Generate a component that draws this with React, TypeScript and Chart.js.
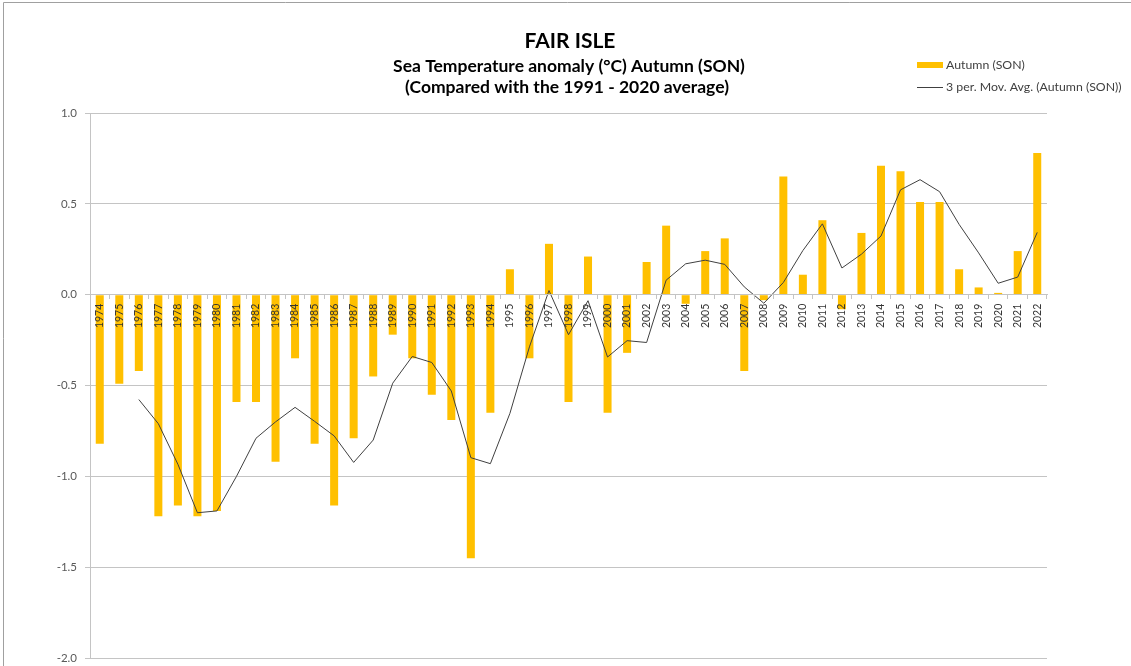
import React, { useEffect, useRef } from "react";
import { Chart, registerables } from "chart.js";

Chart.register(...registerables);

const years: string[] = [
  "1974", "1975", "1976", "1977", "1978", "1979", "1980", "1981", "1982", "1983",
  "1984", "1985", "1986", "1987", "1988", "1989", "1990", "1991", "1992", "1993",
  "1994", "1995", "1996", "1997", "1998", "1999", "2000", "2001", "2002", "2003",
  "2004", "2005", "2006", "2007", "2008", "2009", "2010", "2011", "2012", "2013",
  "2014", "2015", "2016", "2017", "2018", "2019", "2020", "2021", "2022",
];

const autumnAnomaly: number[] = [
  -0.82, -0.49, -0.42, -1.22, -1.16, -1.22, -1.19, -0.59, -0.59, -0.92,
  -0.35, -0.82, -1.16, -0.79, -0.45, -0.22, -0.35, -0.55, -0.69, -1.45,
  -0.65, 0.14, -0.35, 0.28, -0.59, 0.21, -0.65, -0.32, 0.18, 0.38,
  -0.05, 0.24, 0.31, -0.42, -0.03, 0.65, 0.11, 0.41, -0.08, 0.34,
  0.71, 0.68, 0.51, 0.51, 0.14, 0.04, 0.01, 0.24, 0.78,
];

const movingAvg3: (number | null)[] = [
  null, null, -0.577, -0.71, -0.933, -1.2, -1.19, -1.0, -0.79, -0.7,
  -0.62, -0.697, -0.777, -0.923, -0.8, -0.487, -0.34, -0.373, -0.53, -0.897,
  -0.93, -0.653, -0.287, 0.023, -0.22, -0.033, -0.343, -0.253, -0.263, 0.08,
  0.17, 0.19, 0.167, 0.043, -0.047, 0.067, 0.243, 0.39, 0.147, 0.223,
  0.323, 0.577, 0.633, 0.567, 0.387, 0.23, 0.063, 0.097, 0.343,
];

const titleText = "FAIR ISLE";
const subtitleLines: string[] = [
  "Sea Temperature anomaly (°C) Autumn (SON)",
  "(Compared with the 1991 - 2020 average)",
];
const legendLabels: string[] = ["Autumn (SON)", "3 per. Mov. Avg. (Autumn (SON))"];

const FONT = "Lato, 'Open Sans', 'DejaVu Sans', sans-serif";
const BAR_COLOR = "#FFC000";
const LINE_COLOR = "#404040";
const GRID_COLOR = "#c4c4c4";

const decorPlugin = {
  id: "decor",
  afterDraw(chart: any) {
    const ctx = chart.ctx as CanvasRenderingContext2D;
    ctx.save();
    // outer frame
    ctx.strokeStyle = "#a0a0a0";
    ctx.lineWidth = 1;
    ctx.beginPath();
    ctx.moveTo(3.5, 680);
    ctx.lineTo(3.5, 2.5);
    ctx.lineTo(1131, 2.5);
    ctx.stroke();

    // titles
    ctx.fillStyle = "#000000";
    ctx.textAlign = "center";
    ctx.textBaseline = "middle";
    ctx.font = `bold 21px ${FONT}`;
    ctx.fillText(titleText, 570, 41);
    ctx.font = `bold 17.5px ${FONT}`;
    ctx.fillText(subtitleLines[0], 569, 66);
    ctx.fillText(subtitleLines[1], 567, 87);

    // legend
    ctx.textAlign = "left";
    ctx.font = `12.3px ${FONT}`;
    ctx.fillStyle = BAR_COLOR;
    ctx.fillRect(917, 62, 26, 6);
    ctx.fillStyle = "#404040";
    ctx.fillText(legendLabels[0], 946, 65.5);
    ctx.strokeStyle = LINE_COLOR;
    ctx.lineWidth = 1;
    ctx.beginPath();
    ctx.moveTo(917, 87.5);
    ctx.lineTo(943, 87.5);
    ctx.stroke();
    ctx.fillText(legendLabels[1], 946, 87.5);
    ctx.restore();
  },
};

export default function App() {
  const canvasRef = useRef<HTMLCanvasElement | null>(null);

  useEffect(() => {
    const canvas = canvasRef.current;
    if (!canvas) return;
    const chart = new Chart(canvas, {
      type: "bar",
      data: {
        labels: years,
        datasets: [
          {
            type: "line",
            label: legendLabels[1],
            data: movingAvg3,
            borderColor: LINE_COLOR,
            borderWidth: 1,
            pointRadius: 0,
            tension: 0,
            fill: false,
            spanGaps: false,
            order: 0,
          } as any,
          {
            type: "bar",
            label: legendLabels[0],
            data: autumnAnomaly,
            backgroundColor: BAR_COLOR,
            borderWidth: 0,
            categoryPercentage: 1,
            barPercentage: 0.41,
            order: 1,
          } as any,
        ],
      },
      options: {
        responsive: false,
        devicePixelRatio: 1,
        animation: false,
        layout: { padding: { left: 10, right: 84, top: 113, bottom: 1 } },
        plugins: {
          legend: { display: false },
          title: { display: false },
          tooltip: { enabled: false },
        },
        scales: {
          x: {
            type: "category",
            position: { y: 0 } as any,
            afterFit: (s: any) => {
              s.height = 0;
            },
            grid: {
              display: true,
              offset: true,
              drawOnChartArea: false,
              drawTicks: true,
              tickLength: 4,
              color: GRID_COLOR,
              z: 1,
            },
            border: { display: true, color: GRID_COLOR, width: 1, z: 1 },
            ticks: {
              z: 1,
              autoSkip: false,
              minRotation: 90,
              maxRotation: 90,
              padding: 5,
              color: "#333333",
              font: { family: FONT, size: 10.5 },
            },
          },
          y: {
            type: "linear",
            min: -2,
            max: 1,
            afterFit: (s: any) => {
              s.width = 80;
            },
            grid: {
              color: GRID_COLOR,
              drawTicks: true,
              tickLength: 5,
            },
            border: { display: true, color: GRID_COLOR, width: 1 },
            ticks: {
              stepSize: 0.5,
              padding: 8,
              color: "#595959",
              font: { family: FONT, size: 11.5 },
              callback: (v: any) => {
                const n = Number(v);
                return (Math.abs(n) < 1e-9 ? 0 : n).toFixed(1);
              },
            },
          },
        },
      },
      plugins: [decorPlugin],
    });
    return () => chart.destroy();
  }, []);

  return (
    <div
      style={{
        position: "fixed",
        left: 0,
        top: 0,
        width: 1131,
        height: 666,
        overflow: "hidden",
        background: "#ffffff",
      }}
    >
      <canvas ref={canvasRef} width={1131} height={673} style={{ display: "block" }} />
    </div>
  );
}
